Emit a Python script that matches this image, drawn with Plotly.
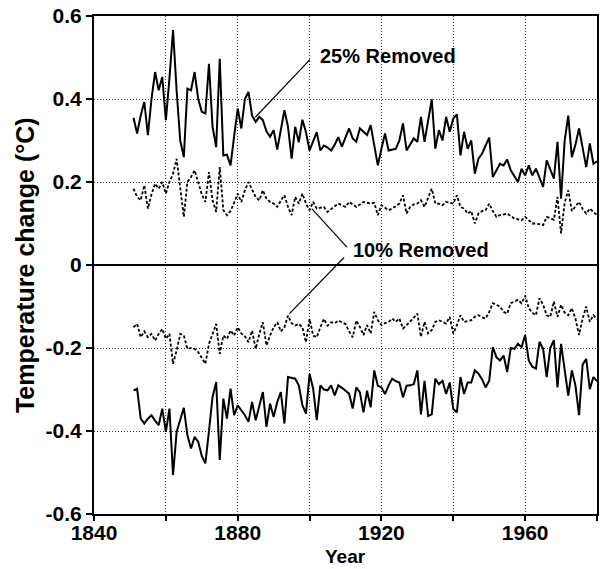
import plotly.graph_objects as go

# Years of the record
years = list(range(1851, 1981))

# 25% of stations removed: positive and negative envelopes (deg C)
pos_25 = [
    0.355, 0.317, 0.360, 0.393, 0.313, 0.400, 0.465, 0.421, 0.453, 0.349,
    0.450, 0.566, 0.420, 0.300, 0.260, 0.425, 0.421, 0.465, 0.400, 0.369,
    0.365, 0.485, 0.333, 0.284, 0.497, 0.264, 0.266, 0.240, 0.310, 0.377,
    0.329, 0.400, 0.417, 0.360, 0.345, 0.357, 0.349, 0.322, 0.309, 0.325,
    0.278, 0.330, 0.373, 0.333, 0.256, 0.333, 0.296, 0.350, 0.320, 0.276,
    0.300, 0.320, 0.276, 0.288, 0.283, 0.276, 0.290, 0.308, 0.285, 0.305,
    0.329, 0.305, 0.297, 0.329, 0.320, 0.313, 0.337, 0.290, 0.240, 0.280,
    0.317, 0.276, 0.278, 0.280, 0.300, 0.341, 0.276, 0.290, 0.305, 0.297,
    0.357, 0.297, 0.350, 0.399, 0.280, 0.325, 0.300, 0.357, 0.321, 0.353,
    0.363, 0.264, 0.321, 0.280, 0.300, 0.220, 0.256, 0.268, 0.288, 0.307,
    0.212, 0.228, 0.244, 0.240, 0.254, 0.228, 0.215, 0.200, 0.232, 0.216,
    0.240, 0.216, 0.232, 0.210, 0.188, 0.252, 0.230, 0.208, 0.297, 0.160,
    0.300, 0.360, 0.260, 0.290, 0.329, 0.280, 0.236, 0.293, 0.244, 0.250,
]
neg_25 = [
    -0.302, -0.298, -0.370, -0.382, -0.370, -0.362, -0.375, -0.386, -0.346, -0.402,
    -0.346, -0.506, -0.402, -0.370, -0.344, -0.410, -0.442, -0.414, -0.426, -0.460,
    -0.478, -0.400, -0.318, -0.282, -0.470, -0.322, -0.370, -0.298, -0.362, -0.338,
    -0.350, -0.362, -0.378, -0.330, -0.374, -0.340, -0.306, -0.390, -0.334, -0.366,
    -0.330, -0.306, -0.382, -0.270, -0.272, -0.274, -0.290, -0.338, -0.358, -0.262,
    -0.298, -0.374, -0.290, -0.300, -0.302, -0.290, -0.314, -0.290, -0.296, -0.302,
    -0.310, -0.346, -0.295, -0.307, -0.355, -0.303, -0.343, -0.254, -0.291, -0.295,
    -0.311, -0.290, -0.274, -0.280, -0.283, -0.319, -0.291, -0.290, -0.287, -0.254,
    -0.360, -0.279, -0.364, -0.360, -0.274, -0.287, -0.279, -0.311, -0.283, -0.347,
    -0.355, -0.270, -0.311, -0.283, -0.283, -0.254, -0.262, -0.275, -0.295, -0.279,
    -0.198, -0.222, -0.230, -0.218, -0.258, -0.200, -0.202, -0.190, -0.198, -0.169,
    -0.230, -0.245, -0.250, -0.185, -0.202, -0.270, -0.200, -0.181, -0.295, -0.190,
    -0.250, -0.315, -0.254, -0.290, -0.362, -0.240, -0.226, -0.299, -0.270, -0.280,
]

# 10% of stations removed: positive and negative envelopes (deg C)
pos_10 = [
    0.184, 0.164, 0.156, 0.192, 0.136, 0.170, 0.196, 0.184, 0.200, 0.172,
    0.200, 0.220, 0.256, 0.188, 0.116, 0.200, 0.212, 0.228, 0.196, 0.170,
    0.152, 0.224, 0.156, 0.128, 0.236, 0.132, 0.120, 0.130, 0.150, 0.172,
    0.152, 0.180, 0.200, 0.180, 0.164, 0.156, 0.180, 0.160, 0.152, 0.148,
    0.140, 0.155, 0.168, 0.140, 0.120, 0.164, 0.148, 0.172, 0.148, 0.132,
    0.152, 0.136, 0.138, 0.140, 0.128, 0.135, 0.140, 0.148, 0.144, 0.140,
    0.152, 0.146, 0.140, 0.146, 0.152, 0.150, 0.148, 0.150, 0.120, 0.144,
    0.138, 0.132, 0.136, 0.142, 0.148, 0.168, 0.124, 0.140, 0.146, 0.148,
    0.156, 0.140, 0.160, 0.184, 0.148, 0.148, 0.144, 0.152, 0.150, 0.148,
    0.168, 0.140, 0.136, 0.124, 0.130, 0.100, 0.124, 0.130, 0.132, 0.148,
    0.130, 0.116, 0.120, 0.122, 0.124, 0.118, 0.112, 0.110, 0.108, 0.116,
    0.108, 0.100, 0.100, 0.098, 0.096, 0.116, 0.112, 0.109, 0.164, 0.076,
    0.150, 0.180, 0.130, 0.140, 0.152, 0.135, 0.124, 0.136, 0.128, 0.120,
]
neg_10 = [
    -0.150, -0.142, -0.174, -0.160, -0.174, -0.166, -0.182, -0.166, -0.154, -0.178,
    -0.166, -0.238, -0.206, -0.166, -0.170, -0.202, -0.200, -0.202, -0.210, -0.225,
    -0.238, -0.190, -0.165, -0.142, -0.214, -0.170, -0.178, -0.158, -0.170, -0.150,
    -0.165, -0.172, -0.186, -0.158, -0.202, -0.166, -0.138, -0.194, -0.170, -0.150,
    -0.138, -0.160, -0.150, -0.122, -0.140, -0.146, -0.142, -0.150, -0.186, -0.130,
    -0.170, -0.174, -0.150, -0.130, -0.146, -0.138, -0.140, -0.134, -0.138, -0.142,
    -0.160, -0.174, -0.134, -0.149, -0.169, -0.145, -0.165, -0.113, -0.133, -0.145,
    -0.140, -0.137, -0.129, -0.137, -0.129, -0.153, -0.145, -0.137, -0.127, -0.117,
    -0.173, -0.137, -0.165, -0.157, -0.137, -0.133, -0.138, -0.141, -0.125, -0.165,
    -0.145, -0.121, -0.137, -0.135, -0.133, -0.125, -0.121, -0.126, -0.129, -0.113,
    -0.092, -0.096, -0.100, -0.113, -0.117, -0.092, -0.088, -0.084, -0.092, -0.074,
    -0.104, -0.115, -0.121, -0.080, -0.096, -0.121, -0.125, -0.088, -0.125, -0.096,
    -0.115, -0.121, -0.104, -0.129, -0.169, -0.129, -0.100, -0.137, -0.121, -0.130,
]

# Axis ticks
x_tick_vals = [1840, 1860, 1880, 1900, 1920, 1940, 1960, 1980]
x_tick_text = ["1840", "", "1880", "", "1920", "", "1960", ""]
y_tick_vals = [-0.6, -0.4, -0.2, 0, 0.2, 0.4, 0.6]
y_tick_text = ["-0.6", "-0.4", "-0.2", "0", "0.2", "0.4", "0.6"]

# Series labels: (text, x, y) and their leader lines (x0, y0, x1, y1)
labels = [("25% Removed", 1902.4, 0.504), ("10% Removed", 1911.6, 0.035)]
leaders = [
    (1900.1, 0.495, 1884.9, 0.356),
    (1910.4, 0.043, 1900.6, 0.136),
    (1909.6, 0.018, 1894.4, -0.117),
]

FONT = "Liberation Sans"
INK = "black"

fig = go.Figure()
fig.add_trace(go.Scatter(x=years, y=pos_25, mode="lines",
                         line=dict(color=INK, width=2), name="25% Removed (+)"))
fig.add_trace(go.Scatter(x=years, y=pos_10, mode="lines",
                         line=dict(color=INK, width=1.8, dash="3px,2px"), name="10% Removed (+)"))
fig.add_trace(go.Scatter(x=years, y=neg_10, mode="lines",
                         line=dict(color=INK, width=1.8, dash="3px,2px"), name="10% Removed (-)"))
fig.add_trace(go.Scatter(x=years, y=neg_25, mode="lines",
                         line=dict(color=INK, width=2), name="25% Removed (-)"))

for x0, y0, x1, y1 in leaders:
    fig.add_shape(type="line", xref="x", yref="y", x0=x0, y0=y0, x1=x1, y1=y1,
                  line=dict(color=INK, width=1.2))

for text, x, y in labels:
    fig.add_annotation(x=x, y=y, xref="x", yref="y", text=text, showarrow=False,
                       xanchor="left", yanchor="middle",
                       font=dict(family=FONT, size=20, color=INK, weight="bold"))

# Axis titles
fig.add_annotation(x=-0.137, y=0.5, xref="paper", yref="paper",
                   text="Temperature change (°C)", textangle=-90, showarrow=False,
                   xanchor="center", yanchor="middle",
                   font=dict(family=FONT, size=25, color=INK, weight="bold"))
fig.add_annotation(x=0.5, y=-0.086, xref="paper", yref="paper", text="Year",
                   showarrow=False, xanchor="center", yanchor="middle",
                   font=dict(family=FONT, size=19, color=INK, weight="bold"))

fig.update_layout(
    width=600, height=569,
    margin=dict(l=94, r=1, t=16, b=55),
    paper_bgcolor="white", plot_bgcolor="white",
    showlegend=False,
)
fig.update_xaxes(
    range=[1840, 1980], tickmode="array", tickvals=x_tick_vals, ticktext=x_tick_text,
    ticks="outside", ticklen=5, tickwidth=1.5, tickcolor=INK,
    ticklabelstandoff=-6,
    showline=True, linecolor=INK, linewidth=2, mirror=True,
    showgrid=True, gridcolor="#333", gridwidth=1, griddash="1px,2px",
    zeroline=False,
    tickfont=dict(family=FONT, size=21, color=INK, weight="bold"),
)
fig.update_yaxes(
    range=[-0.6, 0.6], tickmode="array", tickvals=y_tick_vals, ticktext=y_tick_text,
    ticks="outside", ticklen=6, tickwidth=1.5, tickcolor=INK,
    showline=True, linecolor=INK, linewidth=2, mirror=True,
    showgrid=True, gridcolor="#333", gridwidth=1, griddash="1px,2px",
    zeroline=True, zerolinecolor=INK, zerolinewidth=1.5,
    tickfont=dict(family=FONT, size=21, color=INK, weight="bold"),
)

fig.write_html("out.html")
